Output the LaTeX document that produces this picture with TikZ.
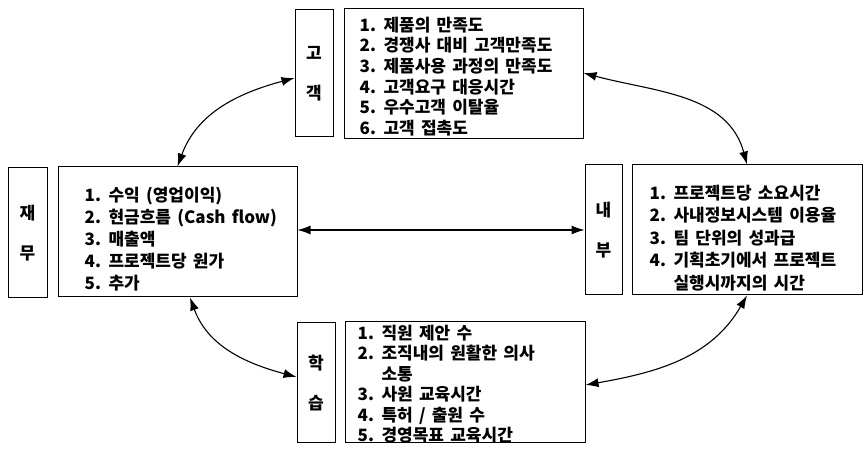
\documentclass[tikz,border=0pt]{standalone}
\usepackage{fontspec}
\setmainfont{Noto Sans CJK KR}[WordSpace=1.6]
\usetikzlibrary{arrows.meta}
\begin{document}
\begin{tikzpicture}[x=1pt,y=1pt,
  lbl/.style={draw, line width=1pt, inner sep=0pt, align=center, font=\fontsize{17}{40}\selectfont\bfseries},
  cbox/.style={draw, line width=1pt, inner sep=0pt},
  txt/.style={anchor=west, align=left, inner sep=0pt},
  arr/.style={{Latex[length=13pt,width=9pt]}-{Latex[length=13pt,width=9pt]}, line width=1.1pt}]
\fill[white] (0,0) rectangle (868,454);
\useasboundingbox (0,0) rectangle (868,454);

% top group
\node[lbl, minimum width=38pt, minimum height=127pt] (gl) at (314,380.5) {고\\객};
\node[cbox, minimum width=239pt, minimum height=130pt] (top) at (463.5,380) {};
\node[txt, font=\fontsize{17}{20.6}\selectfont\bfseries] (toptxt) at ([xshift=16pt,yshift=-2.5pt]top.west)
  {1. 제품의 만족도\\2. 경쟁사 대비 고객만족도\\3. 제품사용 과정의 만족도\\4. 고객요구 대응시간\\5. 우수고객 이탈율\\6. 고객 접촉도};

% left group
\node[lbl, minimum width=39pt, minimum height=130pt] (fl) at (27.5,221) {재\\무};
\node[cbox, minimum width=239pt, minimum height=130pt] (fin) at (177.5,222) {};
\node[txt, font=\fontsize{17}{22}\selectfont\bfseries] (fintxt) at ([xshift=27pt,yshift=-7pt]fin.west)
  {1. 수익 (영업이익)\\2. 현금흐름 (Cash flow)\\3. 매출액\\4. 프로젝트당 원가\\5. 추가};

% right group
\node[lbl, minimum width=37pt, minimum height=130pt] (nb) at (603.5,224) {내\\부};
\node[cbox, minimum width=230pt, minimum height=130pt] (rgt) at (747,224) {};
\node[txt, font=\fontsize{17}{22.5}\selectfont\bfseries] (rgttxt) at ([xshift=18pt,yshift=-8pt]rgt.west)
  {1. 프로젝트당 소요시간\\2. 사내정보시스템 이용율\\3. 팀 단위의 성과급\\4. 기획초기에서 프로젝트\\\phantom{4. }실행시까지의 시간};

% bottom group
\node[lbl, minimum width=38pt, minimum height=120pt] (hl) at (316,71) {학\\습};
\node[cbox, minimum width=240pt, minimum height=121pt] (bot) at (465,71.5) {};
\node[txt, font=\fontsize{17}{20.5}\selectfont\bfseries] (bottxt) at ([xshift=13pt,yshift=-1.5pt]bot.west)
  {1. 직원 제안 수\\2. 조직내의 원활한 의사\\\phantom{2. }소통\\3. 사원 교육시간\\4. 특허 / 출원 수\\5. 경영목표 교육시간};

% connectors
\draw[arr] (fin.north) to[out=70,in=195] ([yshift=-4.5pt]gl.west);
\draw[arr] ([yshift=1pt]top.east) to[out=-15,in=105] (rgt.north);
\draw[arr] (nb.west -| fin.east) -- (nb.west);
\draw[arr] ([xshift=12.5pt]fin.south) to[out=-70,in=165] ([yshift=6pt]hl.west);
\draw[arr] ([yshift=-2.5pt]bot.east) to[out=10,in=240] (rgt.south);
\end{tikzpicture}
\end{document}
